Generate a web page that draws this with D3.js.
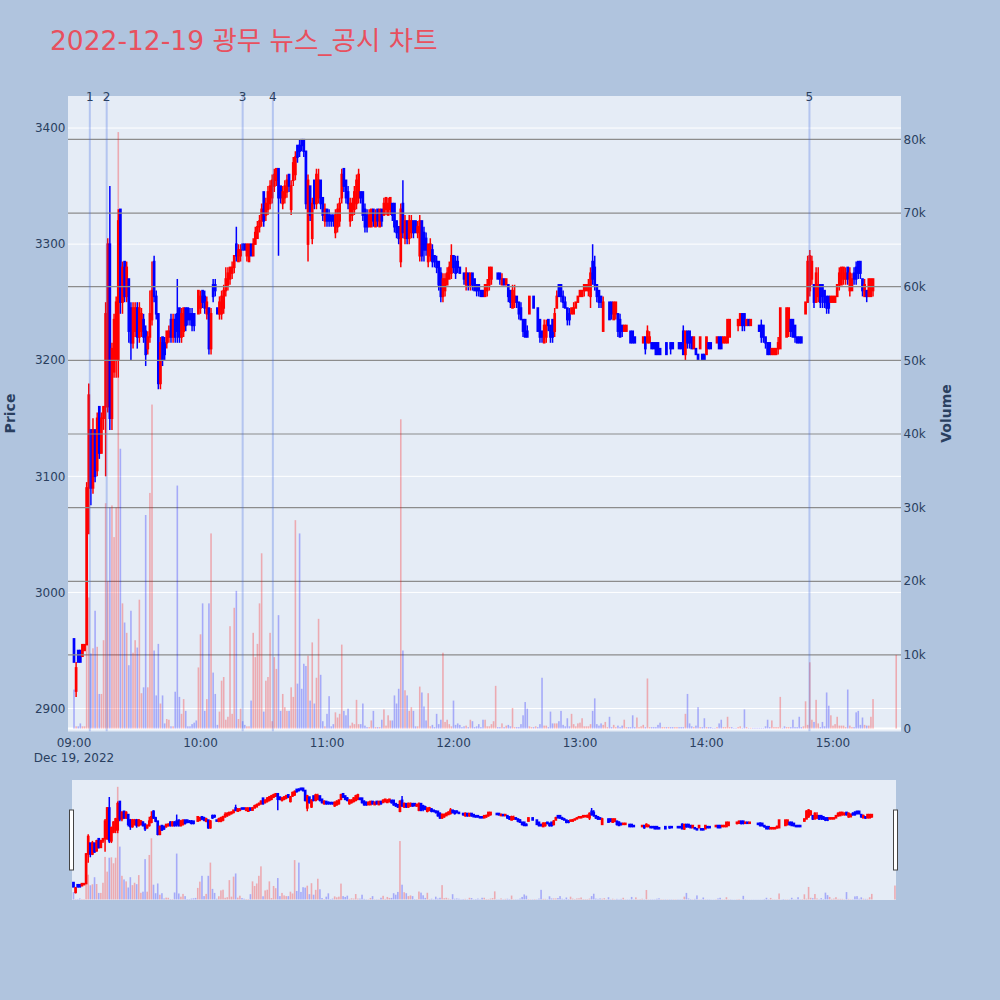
<!DOCTYPE html>
<html><head><meta charset="utf-8">
<script src="https://cdn.jsdelivr.net/npm/d3@7"></script>
<style>html,body{margin:0;padding:0;background:#b0c4de;}svg{display:block;}</style>
</head><body>
<svg id="chart" width="1000" height="1000"></svg>
<script>
// ---------- DATA (1-minute candles, 2022-12-19) ----------
const times = [
"09:00","09:01","09:02","09:03","09:04","09:05","09:06","09:07","09:08","09:09","09:10","09:11","09:12","09:13","09:14","09:15","09:16","09:17","09:18","09:19","09:20","09:21","09:22","09:23","09:24","09:25","09:26","09:27","09:28","09:29","09:30","09:31","09:32","09:33","09:34","09:35","09:36","09:37","09:38","09:39","09:40","09:41","09:42","09:43","09:44","09:45","09:46","09:47","09:48","09:49","09:50","09:51","09:52","09:53","09:54","09:55","09:56","09:57","09:58","09:59",
"10:00","10:01","10:02","10:03","10:04","10:05","10:06","10:07","10:08","10:09","10:10","10:11","10:12","10:13","10:14","10:15","10:16","10:17","10:18","10:19","10:20","10:21","10:22","10:23","10:24","10:25","10:26","10:27","10:28","10:29","10:30","10:31","10:32","10:33","10:34","10:35","10:36","10:37","10:38","10:39","10:40","10:41","10:42","10:43","10:44","10:45","10:46","10:47","10:48","10:49","10:50","10:51","10:52","10:53","10:54","10:55","10:56","10:57","10:58","10:59",
"11:00","11:01","11:02","11:03","11:04","11:05","11:06","11:07","11:08","11:09","11:10","11:11","11:12","11:13","11:14","11:15","11:16","11:17","11:18","11:19","11:20","11:21","11:22","11:23","11:24","11:25","11:26","11:27","11:28","11:29","11:30","11:31","11:32","11:33","11:34","11:35","11:36","11:37","11:38","11:39","11:40","11:41","11:42","11:43","11:44","11:45","11:46","11:47","11:48","11:49","11:50","11:51","11:52","11:53","11:54","11:55","11:56","11:57","11:58","11:59",
"12:00","12:01","12:02","12:03","12:04","12:05","12:06","12:07","12:08","12:09","12:10","12:11","12:12","12:13","12:14","12:15","12:16","12:17","12:18","12:19","12:20","12:21","12:22","12:23","12:24","12:25","12:26","12:27","12:28","12:29","12:30","12:31","12:32","12:33","12:34","12:35","12:36","12:37","12:38","12:39","12:40","12:41","12:42","12:43","12:44","12:45","12:46","12:47","12:48","12:49","12:50","12:51","12:52","12:53","12:54","12:55","12:56","12:57","12:58","12:59",
"13:00","13:01","13:02","13:03","13:04","13:05","13:06","13:07","13:08","13:09","13:10","13:11","13:12","13:13","13:14","13:15","13:16","13:17","13:18","13:19","13:20","13:21","13:22","13:23","13:24","13:25","13:26","13:27","13:28","13:29","13:30","13:31","13:32","13:33","13:34","13:35","13:36","13:37","13:38","13:39","13:40","13:41","13:42","13:43","13:44","13:45","13:46","13:47","13:48","13:49","13:50","13:51","13:52","13:53","13:54","13:55","13:56","13:57","13:58","13:59",
"14:00","14:01","14:02","14:03","14:04","14:05","14:06","14:07","14:08","14:09","14:10","14:11","14:12","14:13","14:14","14:15","14:16","14:17","14:18","14:19","14:20","14:21","14:22","14:23","14:24","14:25","14:26","14:27","14:28","14:29","14:30","14:31","14:32","14:33","14:34","14:35","14:36","14:37","14:38","14:39","14:40","14:41","14:42","14:43","14:44","14:45","14:46","14:47","14:48","14:49","14:50","14:51","14:52","14:53","14:54","14:55","14:56","14:57","14:58","14:59",
"15:00","15:01","15:02","15:03","15:04","15:05","15:06","15:07","15:08","15:09","15:10","15:11","15:12","15:13","15:14","15:15","15:16","15:17","15:18","15:19","15:30"];

const open = [
2960,2915,2950,2950,2945,2950,2955,3090,3140,3090, 3140,3105,3160,3120,3150,3160,3160,3300,3150,3190,
3200,3200,3330,3250,3285,3255,3270,3245,3215,3225, 3245,3220,3225,3235,3225,3210,3220,3235,3285,3255,
3240,3180,3220,3215,3215,3220,3235,3220,3235,3240, 3245,3220,3225,3245,3245,3240,3240,3240,3230,3240,
3245,3260,3255,3240,3245,3210,3265,3265,3245,3240, 3240,3245,3260,3265,3270,3275,3280,3300,3285,3290,
3300,3300,3290,3285,3300,3290,3300,3305,3315,3320, 3345,3325,3330,3335,3340,3350,3355,3365,3350,3335,
3340,3345,3360,3330,3355,3360,3385,3385,3390,3390, 3380,3300,3350,3305,3355,3335,3340,3355,3340,3320,
3330,3325,3325,3325,3310,3315,3320,3340,3365,3355, 3345,3320,3325,3330,3335,3340,3345,3345,3330,3325,
3315,3315,3330,3315,3330,3315,3330,3325,3330,3325, 3330,3335,3335,3320,3315,3285,3335,3305,3320,3305,
3310,3320,3320,3310,3290,3320,3310,3305,3285,3290, 3295,3290,3285,3285,3275,3255,3260,3265,3270,3275,
3290,3285,3285,3280,3275,3275,3265,3275,3265,3275, 3270,3265,3265,3260,3260,3255,3260,3265,3270,3280,
3280,3275,3275,3265,3270,3265,3265,3260,3245,3250, 3255,3250,3245,3235,3235,3225,3240,3255,3255,3255,
3245,3235,3225,3215,3220,3235,3230,3235,3225,3245, 3265,3265,3255,3250,3245,3240,3240,3240,3245,3250,
3255,3255,3260,3260,3260,3255,3285,3280,3265,3260, 3255,3225,3255,3255,3250,3250,3235,3240,3240,3235,
3230,3225,3225,3225,3225,3225,3220,3220,3220,3220, 3215,3220,3215,3215,3215,3215,3215,3215,3210,3210,
3210,3215,3210,3215,3215,3220,3220,3215,3215,3225, 3205,3225,3225,3220,3210,3210,3205,3210,3205,3205,
3205,3215,3215,3200,3200,3215,3220,3220,3215,3215, 3215,3220,3230,3230,3230,3230,3230,3240,3240,3230,
3235,3230,3230,3230,3230,3230,3230,3230,3220,3215, 3215,3205,3205,3205,3210,3210,3210,3210,3220,3225,
3235,3235,3230,3220,3220,3220,3235,3240,3250,3260, 3270,3265,3250,3255,3265,3265,3260,3255,3255,3250,
3250,3250,3255,3265,3265,3270,3270,3280,3260,3260, 3275,3280,3285,3285,3270,3255,3260,3255,3255,3260,
3275];

const high = [
2960,2940,2950,2950,2955,2955,3095,3180,3140,3150, 3140,3155,3160,3155,3160,3250,3305,3350,3215,3240,
3255,3330,3330,3285,3285,3285,3270,3250,3250,3250, 3250,3250,3245,3240,3230,3225,3260,3285,3290,3260,
3240,3220,3220,3220,3225,3230,3240,3240,3240,3270, 3245,3245,3245,3245,3245,3245,3245,3240,3230,3260,
3260,3260,3260,3255,3245,3245,3270,3270,3245,3255, 3260,3265,3280,3280,3280,3285,3290,3315,3300,3300,
3300,3300,3300,3300,3300,3305,3315,3320,3325,3335, 3345,3340,3350,3355,3360,3365,3365,3365,3350,3350,
3355,3360,3360,3355,3375,3380,3385,3390,3390,3390, 3380,3360,3350,3340,3355,3365,3365,3355,3340,3335,
3330,3330,3325,3325,3330,3335,3340,3365,3365,3355, 3350,3340,3340,3350,3360,3365,3345,3345,3335,3330,
3330,3330,3330,3330,3330,3330,3330,3340,3340,3340, 3340,3335,3335,3320,3315,3335,3355,3325,3320,3325,
3325,3320,3320,3320,3325,3320,3315,3310,3300,3305, 3300,3290,3290,3285,3280,3275,3275,3280,3285,3300,
3290,3290,3290,3280,3275,3275,3280,3275,3275,3275, 3270,3265,3265,3260,3260,3265,3270,3280,3280,3280,
3280,3275,3275,3275,3270,3270,3265,3260,3265,3265, 3255,3250,3250,3235,3235,3230,3255,3255,3255,3255,
3245,3235,3225,3235,3235,3235,3230,3235,3245,3260, 3265,3265,3260,3255,3245,3245,3245,3250,3250,3255,
3260,3260,3265,3265,3270,3280,3300,3290,3265,3260, 3255,3255,3255,3255,3250,3250,3250,3250,3240,3240,
3230,3230,3230,3225,3225,3225,3220,3220,3220,3220, 3220,3220,3230,3225,3215,3215,3215,3215,3210,3210,
3210,3215,3210,3215,3215,3220,3220,3215,3215,3230, 3225,3225,3225,3220,3220,3210,3205,3220,3205,3205,
3220,3215,3215,3200,3200,3220,3220,3220,3220,3220, 3235,3235,3230,3230,3230,3235,3240,3240,3240,3235,
3235,3235,3230,3230,3230,3230,3235,3230,3220,3215, 3215,3210,3210,3210,3220,3245,3210,3210,3245,3245,
3235,3235,3230,3220,3220,3220,3235,3250,3290,3295, 3290,3265,3280,3280,3265,3265,3260,3255,3255,3255,
3255,3255,3265,3280,3280,3280,3280,3280,3280,3275, 3280,3285,3285,3285,3270,3270,3260,3270,3270,3270,
3275];

const low = [
2940,2910,2940,2940,2945,2950,2955,3050,3075,3085, 3095,3100,3115,3120,3140,3100,3155,3140,3140,3185,
3185,3185,3240,3240,3250,3250,3215,3200,3210,3220, 3210,3215,3220,3215,3195,3205,3215,3230,3250,3235,
3175,3175,3195,3200,3210,3215,3215,3215,3215,3215, 3215,3215,3220,3225,3230,3230,3225,3225,3230,3240,
3240,3245,3240,3235,3205,3205,3250,3255,3240,3235, 3235,3240,3255,3260,3265,3270,3275,3285,3285,3285,
3295,3295,3285,3285,3290,3290,3300,3305,3310,3315, 3315,3320,3325,3330,3335,3345,3350,3290,3335,3330,
3335,3340,3345,3325,3350,3355,3370,3375,3380,3375, 3330,3285,3320,3300,3330,3330,3335,3330,3320,3315,
3315,3315,3315,3315,3305,3310,3315,3335,3345,3335, 3330,3315,3320,3325,3330,3335,3335,3320,3310,3310,
3315,3315,3315,3315,3315,3315,3315,3325,3325,3325, 3325,3320,3310,3305,3300,3280,3305,3300,3300,3300,
3305,3305,3310,3305,3285,3285,3285,3290,3280,3285, 3280,3280,3275,3260,3250,3250,3255,3265,3270,3270,
3275,3270,3275,3275,3275,3265,3260,3260,3260,3260, 3260,3255,3255,3255,3255,3255,3255,3260,3265,3280,
3280,3270,3265,3265,3265,3265,3250,3245,3245,3245, 3245,3235,3235,3220,3220,3220,3240,3255,3245,3255,
3225,3215,3215,3215,3215,3225,3215,3215,3220,3245, 3255,3250,3245,3245,3230,3230,3240,3240,3245,3250,
3255,3255,3255,3260,3255,3245,3265,3260,3250,3245, 3245,3225,3255,3255,3235,3235,3235,3235,3220,3220,
3220,3225,3225,3225,3215,3215,3215,3220,3220,3220, 3215,3205,3215,3215,3210,3210,3205,3205,3205,3210,
3210,3205,3210,3205,3210,3220,3220,3210,3210,3205, 3200,3210,3210,3210,3210,3205,3200,3210,3200,3200,
3205,3210,3210,3200,3200,3215,3210,3210,3215,3215, 3215,3220,3230,3230,3230,3225,3230,3225,3225,3230,
3230,3230,3230,3230,3230,3225,3215,3215,3210,3205, 3205,3205,3205,3205,3205,3210,3210,3210,3220,3220,
3220,3220,3215,3215,3215,3215,3235,3240,3250,3255, 3265,3245,3250,3250,3245,3245,3245,3240,3240,3250,
3250,3250,3255,3260,3265,3265,3265,3265,3255,3260, 3265,3265,3270,3270,3255,3255,3250,3255,3255,3255,
3275];

const close = [
2940,2935,2940,2940,2955,2955,3090,3170,3090,3140, 3100,3150,3120,3150,3160,3240,3300,3150,3210,3235,
3250,3320,3250,3280,3255,3280,3225,3215,3245,3245, 3220,3245,3240,3220,3205,3220,3240,3260,3255,3240,
3180,3215,3200,3205,3225,3225,3220,3235,3220,3225, 3220,3240,3245,3230,3235,3235,3230,3230,3230,3260,
3255,3250,3245,3250,3210,3240,3255,3260,3240,3250, 3255,3260,3270,3275,3280,3280,3290,3290,3295,3295,
3295,3295,3300,3300,3290,3300,3310,3315,3320,3330, 3320,3335,3345,3350,3355,3360,3365,3340,3340,3345,
3350,3355,3350,3350,3370,3375,3375,3380,3385,3380, 3335,3355,3325,3335,3335,3360,3355,3335,3325,3330,
3320,3320,3320,3320,3325,3330,3335,3360,3350,3340, 3335,3335,3335,3345,3355,3360,3340,3325,3315,3315,
3325,3330,3320,3325,3320,3330,3320,3335,3340,3335, 3340,3325,3315,3310,3305,3330,3310,3320,3305,3320,
3320,3310,3310,3315,3320,3290,3295,3295,3300,3300, 3285,3285,3280,3265,3255,3270,3270,3275,3280,3290,
3280,3275,3280,3275,3275,3270,3275,3265,3275,3265, 3260,3260,3260,3255,3255,3265,3265,3280,3280,3280,
3280,3270,3270,3270,3265,3270,3255,3250,3260,3255, 3250,3240,3235,3225,3220,3220,3255,3255,3245,3255,
3225,3220,3220,3230,3230,3230,3220,3220,3240,3255, 3255,3255,3250,3245,3235,3235,3245,3245,3250,3255,
3260,3260,3265,3265,3265,3275,3270,3265,3255,3250, 3250,3250,3255,3255,3235,3240,3250,3250,3225,3220,
3225,3230,3230,3225,3215,3215,3215,3220,3220,3220, 3220,3210,3225,3220,3210,3210,3205,3205,3205,3210,
3210,3205,3210,3210,3210,3220,3220,3210,3210,3205, 3225,3215,3215,3210,3220,3205,3200,3220,3200,3200,
3220,3210,3210,3200,3200,3220,3210,3210,3220,3220, 3235,3235,3230,3230,3230,3235,3240,3230,3230,3235,
3230,3235,3230,3230,3230,3225,3220,3220,3215,3205, 3205,3210,3210,3210,3215,3245,3210,3210,3245,3245,
3225,3220,3220,3215,3215,3215,3235,3250,3285,3290, 3285,3250,3275,3265,3250,3255,3250,3245,3245,3255,
3255,3255,3265,3275,3280,3280,3275,3270,3275,3270, 3270,3270,3275,3275,3260,3265,3255,3270,3270,3270,
3275];

// volume in thousands of shares
const volume = [
5.3,0.3,0.3,0.7,0.3,0.3,15,17.8,10.2,10.9, 16,11.1,4.7,4.7,12,30.6,20,30,30.3,26,
30,81,38,17,14.4,13,8.6,16,10.3,12, 11,17.5,4.8,5.6,29,5.6,32,44,10.6,4.5,
11.5,3.4,4.5,0.7,1.3,1.2,0.3,0.3,5,33, 4.3,2,4,2.4,0.3,0.3,0.6,0.8,1.1,8.3,
12.8,17,2.4,4,17,26.5,7.6,4.7,0.5,2.3, 6.5,7,1.2,1.6,13.9,2,16.4,18.7,1.3,2.7,
1,0.5,0.3,0.3,3.8,13,9.7,11.5,17,23.8, 2.3,6.5,7,13,1,9.7,8.1,15.4,2.4,4.7,
2.9,2.4,2.4,5.6,4.3,28.3,6.1,26.5,5.4,8.8, 8.5,9.9,3.8,11.7,3.4,6.9,14.9,7.3,1,0.3,
2,4.4,0.3,0.6,2.2,1.5,2,11.4,2.4,1.8, 2.7,0.4,0.8,0.6,3.9,0.6,0.6,3.4,0.4,0.2,
0.2,1.1,2.4,0.2,0.2,0.2,1.2,2.6,0.4,1.8, 1.1,1.1,4.5,3.4,5.4,42,10.6,5.2,4.5,2.4,
2.9,2.4,0.3,0.3,5.7,4.9,3,1.1,4.8,0.3, 0.5,0.2,2,0.6,1.2,10.3,0.9,1.2,0.6,0.3,
3.8,0.5,0.7,0.5,0.2,0.3,0.4,0.2,1.2,1, 0.2,0.3,0.6,0.2,1.2,1.2,0.3,0.3,0.6,1,
5.8,0.2,0.2,0.7,0.2,0.4,0.5,0.3,2.8,0.2, 0.2,0.2,0.6,1.8,3.6,2.7,0.3,0.2,0.2,0.3,
0.2,0.6,6.9,0.4,0.4,0.2,2.3,0.7,0.7,0.7, 1,2.4,0.5,0.3,1.4,0.3,2,0.6,0.3,0.7,
0.8,1.4,0.3,0.3,0.3,0.6,2.4,4.1,0.6,0.4, 0.7,0.5,0.9,0.2,1.6,0.2,0.5,0.2,0.4,0.2,
0.4,1.2,0.2,0.2,0.2,1.8,0.2,1.5,0.2,0.3, 0.5,0.2,6.8,0.2,0.2,0.2,0.2,0.5,0.8,0.2,
0.2,0.2,0.2,0.2,0.2,0.2,0.2,0.2,0.2,0.2, 2,4.7,0.7,0.3,0.2,0.4,2.9,0.2,0.2,1.4,
0.2,0.2,0.2,0.1,0.1,0.2,0.7,1.2,0.2,0.2, 1.6,0.2,0.2,0.1,0.1,0.2,0.3,0.1,2.6,0.2,
0.1,0.1,0.1,0.1,0.1,0.1,0.1,0.1,0.3,1.2, 0.2,1.1,0.2,0.2,0.2,4.3,0.1,0.3,0.2,0.2,
0.2,1.2,0.2,0.2,1.6,0.2,0.3,3.7,0.5,9, 1.2,0.9,3.9,0.7,0.2,0.9,0.3,4.9,3.1,1.8,
0.4,0.6,1.6,0.4,0.4,0.4,0.2,5.3,0.4,0.2, 0.2,2.2,2.4,0.5,1.5,0.5,0.4,0.4,1.6,4,
10];

const newsTimes = ["09:07:30","09:15:30","10:20:00","10:34:20","14:48:50"];
const newsLabels = ["1","2","3","4","5"];
const priceTicks = [2900,3000,3100,3200,3300,3400];
const volumeTicks = [0,10,20,30,40,50,60,70,80];
const timeTicks = ["09:00","10:00","11:00","12:00","13:00","14:00","15:00"];
const dateLabel = "Dec 19, 2022";
const titleText = "2022-12-19 광무 뉴스_공시 차트";
const xRangeMain = ["08:57:09","15:32:16"];
const xRangeSlider = ["08:59:18","15:30:30"];
const priceRange = [2880.2, 3427.6];
const volumeRange = [-0.4, 85.9];

// ---------- RENDER ----------
const FONT = "'DejaVu Sans', Verdana, 'Noto Sans CJK KR', sans-serif";
const TXT = "#2a3f5f";
const UP = "#ff0000", DOWN = "#0000ff";
const parseT = s => d3.timeParse("%Y-%m-%d %H:%M:%S")("2022-12-19 " + (s.length === 5 ? s + ":00" : s));
const T = times.map(parseT);

// direction (plotly-style: ties follow previous close / previous direction)
const dirUp = [];
for (let i = 0; i < close.length; i++) {
  if (close[i] > open[i]) dirUp.push(true);
  else if (close[i] < open[i]) dirUp.push(false);
  else if (i > 0 && close[i] > close[i-1]) dirUp.push(true);
  else if (i > 0 && close[i] < close[i-1]) dirUp.push(false);
  else dirUp.push(i > 0 ? dirUp[i-1] : false);
}

const svg = d3.select("#chart");
svg.append("rect").attr("width",1000).attr("height",1000).attr("fill","#b0c4de");

const P = {l:68, r:901, t:96, b:731.5};
const S = {l:72, r:896, t:780, b:900};

const x = d3.scaleTime().domain(xRangeMain.map(parseT)).range([P.l, P.r]);
const yP = d3.scaleLinear().domain(priceRange).range([P.b, P.t]);
const yV = d3.scaleLinear().domain(volumeRange).range([P.b, P.t]);

const xs = d3.scaleTime().domain(xRangeSlider.map(parseT)).range([S.l, S.r]);
const ysP = d3.scaleLinear().domain(priceRange).range([S.b, S.t]);
const ysV = d3.scaleLinear().domain(volumeRange).range([S.b, S.t]);

// title
svg.append("text").attr("x",50).attr("y",50)
  .attr("font-family",FONT).attr("font-size",26.5).attr("fill","#e8505e")
  .text(titleText);

// plot background
svg.append("rect").attr("x",P.l).attr("y",P.t).attr("width",P.r-P.l).attr("height",P.b-P.t).attr("fill","#e5ecf6");

// price grid (white)
const gP = svg.append("g");
gP.selectAll("line").data(priceTicks).join("line")
  .attr("x1",P.l).attr("x2",P.r).attr("y1",d=>yP(d)).attr("y2",d=>yP(d))
  .attr("stroke","#ffffff").attr("stroke-width",1);

function drawCandles(g, xS, yS, lw) {
  const cg = g.append("g");
  T.forEach((t,i) => {
    const c = dirUp[i] ? UP : DOWN;
    const cx = xS(t);
    cg.append("line").attr("x1",cx).attr("x2",cx)
      .attr("y1",yS(high[i])).attr("y2",yS(low[i]))
      .attr("stroke",c).attr("stroke-width",lw);
    const top = yS(Math.max(open[i],close[i])), bot = yS(Math.min(open[i],close[i]));
    cg.append("rect").attr("x",cx-0.6).attr("width",1.2)
      .attr("y",top).attr("height",Math.max(0,bot-top))
      .attr("fill",c).attr("stroke",c).attr("stroke-width",lw);
  });
}
function drawVolume(g, xS, yS) {
  const vg = g.append("g");
  vg.selectAll("rect").data(volume).join("rect")
    .attr("x",(d,i)=>xS(T[i])-0.8).attr("width",1.6)
    .attr("y",d=>yS(d)).attr("height",d=>Math.max(0,yS(0)-yS(d)))
    .attr("fill",(d,i)=>dirUp[i] ? UP : DOWN).attr("fill-opacity",0.28);
}

// clip for main plot
svg.append("clipPath").attr("id","clipMain").append("rect")
  .attr("x",P.l).attr("y",P.t).attr("width",P.r-P.l).attr("height",P.b-P.t);
const main = svg.append("g").attr("clip-path","url(#clipMain)");
drawCandles(main, x, yP, 1.5);

// volume grid (grey) and zero line
const gV = main.append("g");
gV.selectAll("line").data(volumeTicks.filter(d=>d>0)).join("line")
  .attr("x1",P.l).attr("x2",P.r).attr("y1",d=>yV(d)).attr("y2",d=>yV(d))
  .attr("stroke","#8c8c8c").attr("stroke-width",1.2);
gV.append("line").attr("x1",P.l).attr("x2",P.r).attr("y1",yV(0)).attr("y2",yV(0))
  .attr("stroke","#ffffff").attr("stroke-width",2);
drawVolume(main, x, yV);

// news lines
const nT = newsTimes.map(parseT);
main.selectAll("line.news").data(nT).join("line").attr("class","news")
  .attr("x1",d=>x(d)).attr("x2",d=>x(d)).attr("y1",P.t).attr("y2",P.b)
  .attr("stroke","royalblue").attr("stroke-opacity",0.3).attr("stroke-width",2);
svg.selectAll("text.news").data(nT).join("text").attr("class","news")
  .attr("x",d=>x(d)).attr("y",97).attr("dy","0.35em").attr("text-anchor","middle")
  .attr("font-family",FONT).attr("font-size",12).attr("fill",TXT)
  .text((d,i)=>newsLabels[i]);

// left axis (price)
svg.selectAll("text.pt").data(priceTicks).join("text").attr("class","pt")
  .attr("x",65.5).attr("y",d=>yP(d)).attr("dy","0.35em").attr("text-anchor","end")
  .attr("font-family",FONT).attr("font-size",12).attr("fill",TXT).text(d=>d);
// right axis (volume)
svg.selectAll("text.vt").data(volumeTicks).join("text").attr("class","vt")
  .attr("x",903.5).attr("y",d=>yV(d)).attr("dy","0.35em").attr("text-anchor","start")
  .attr("font-family",FONT).attr("font-size",12).attr("fill",TXT).text(d=> d===0 ? "0" : d+"k");
// x axis
const tT = timeTicks.map(parseT);
svg.selectAll("text.xt").data(tT).join("text").attr("class","xt")
  .attr("x",d=>x(d)).attr("y",746.5).attr("text-anchor","middle")
  .attr("font-family",FONT).attr("font-size",12).attr("fill",TXT).text((d,i)=>timeTicks[i]);
svg.append("text").attr("x",x(tT[0])).attr("y",762).attr("text-anchor","middle")
  .attr("font-family",FONT).attr("font-size",12).attr("fill",TXT).text(dateLabel);

// axis titles
svg.append("text").attr("transform","translate(15,413.5) rotate(-90)").attr("text-anchor","middle")
  .attr("font-family",FONT).attr("font-size",14).attr("font-weight","bold").attr("fill",TXT).text("Price");
svg.append("text").attr("transform","translate(951,413.5) rotate(-90)").attr("text-anchor","middle")
  .attr("font-family",FONT).attr("font-size",14).attr("font-weight","bold").attr("fill",TXT).text("Volume");

// range slider
svg.append("rect").attr("x",S.l).attr("y",S.t).attr("width",S.r-S.l).attr("height",S.b-S.t).attr("fill","#e5ecf6");
svg.append("clipPath").attr("id","clipS").append("rect")
  .attr("x",S.l).attr("y",S.t).attr("width",S.r-S.l).attr("height",S.b-S.t);
const sl = svg.append("g").attr("clip-path","url(#clipS)");
drawCandles(sl, xs, ysP, 1.5);
drawVolume(sl, xs, ysV);
[S.l, S.r].forEach(hx => {
  svg.append("rect").attr("x",hx-2.5).attr("y",810).attr("width",4).attr("height",60)
    .attr("fill","#ffffff").attr("stroke","#444").attr("stroke-width",1);
});
</script>
</body></html>
